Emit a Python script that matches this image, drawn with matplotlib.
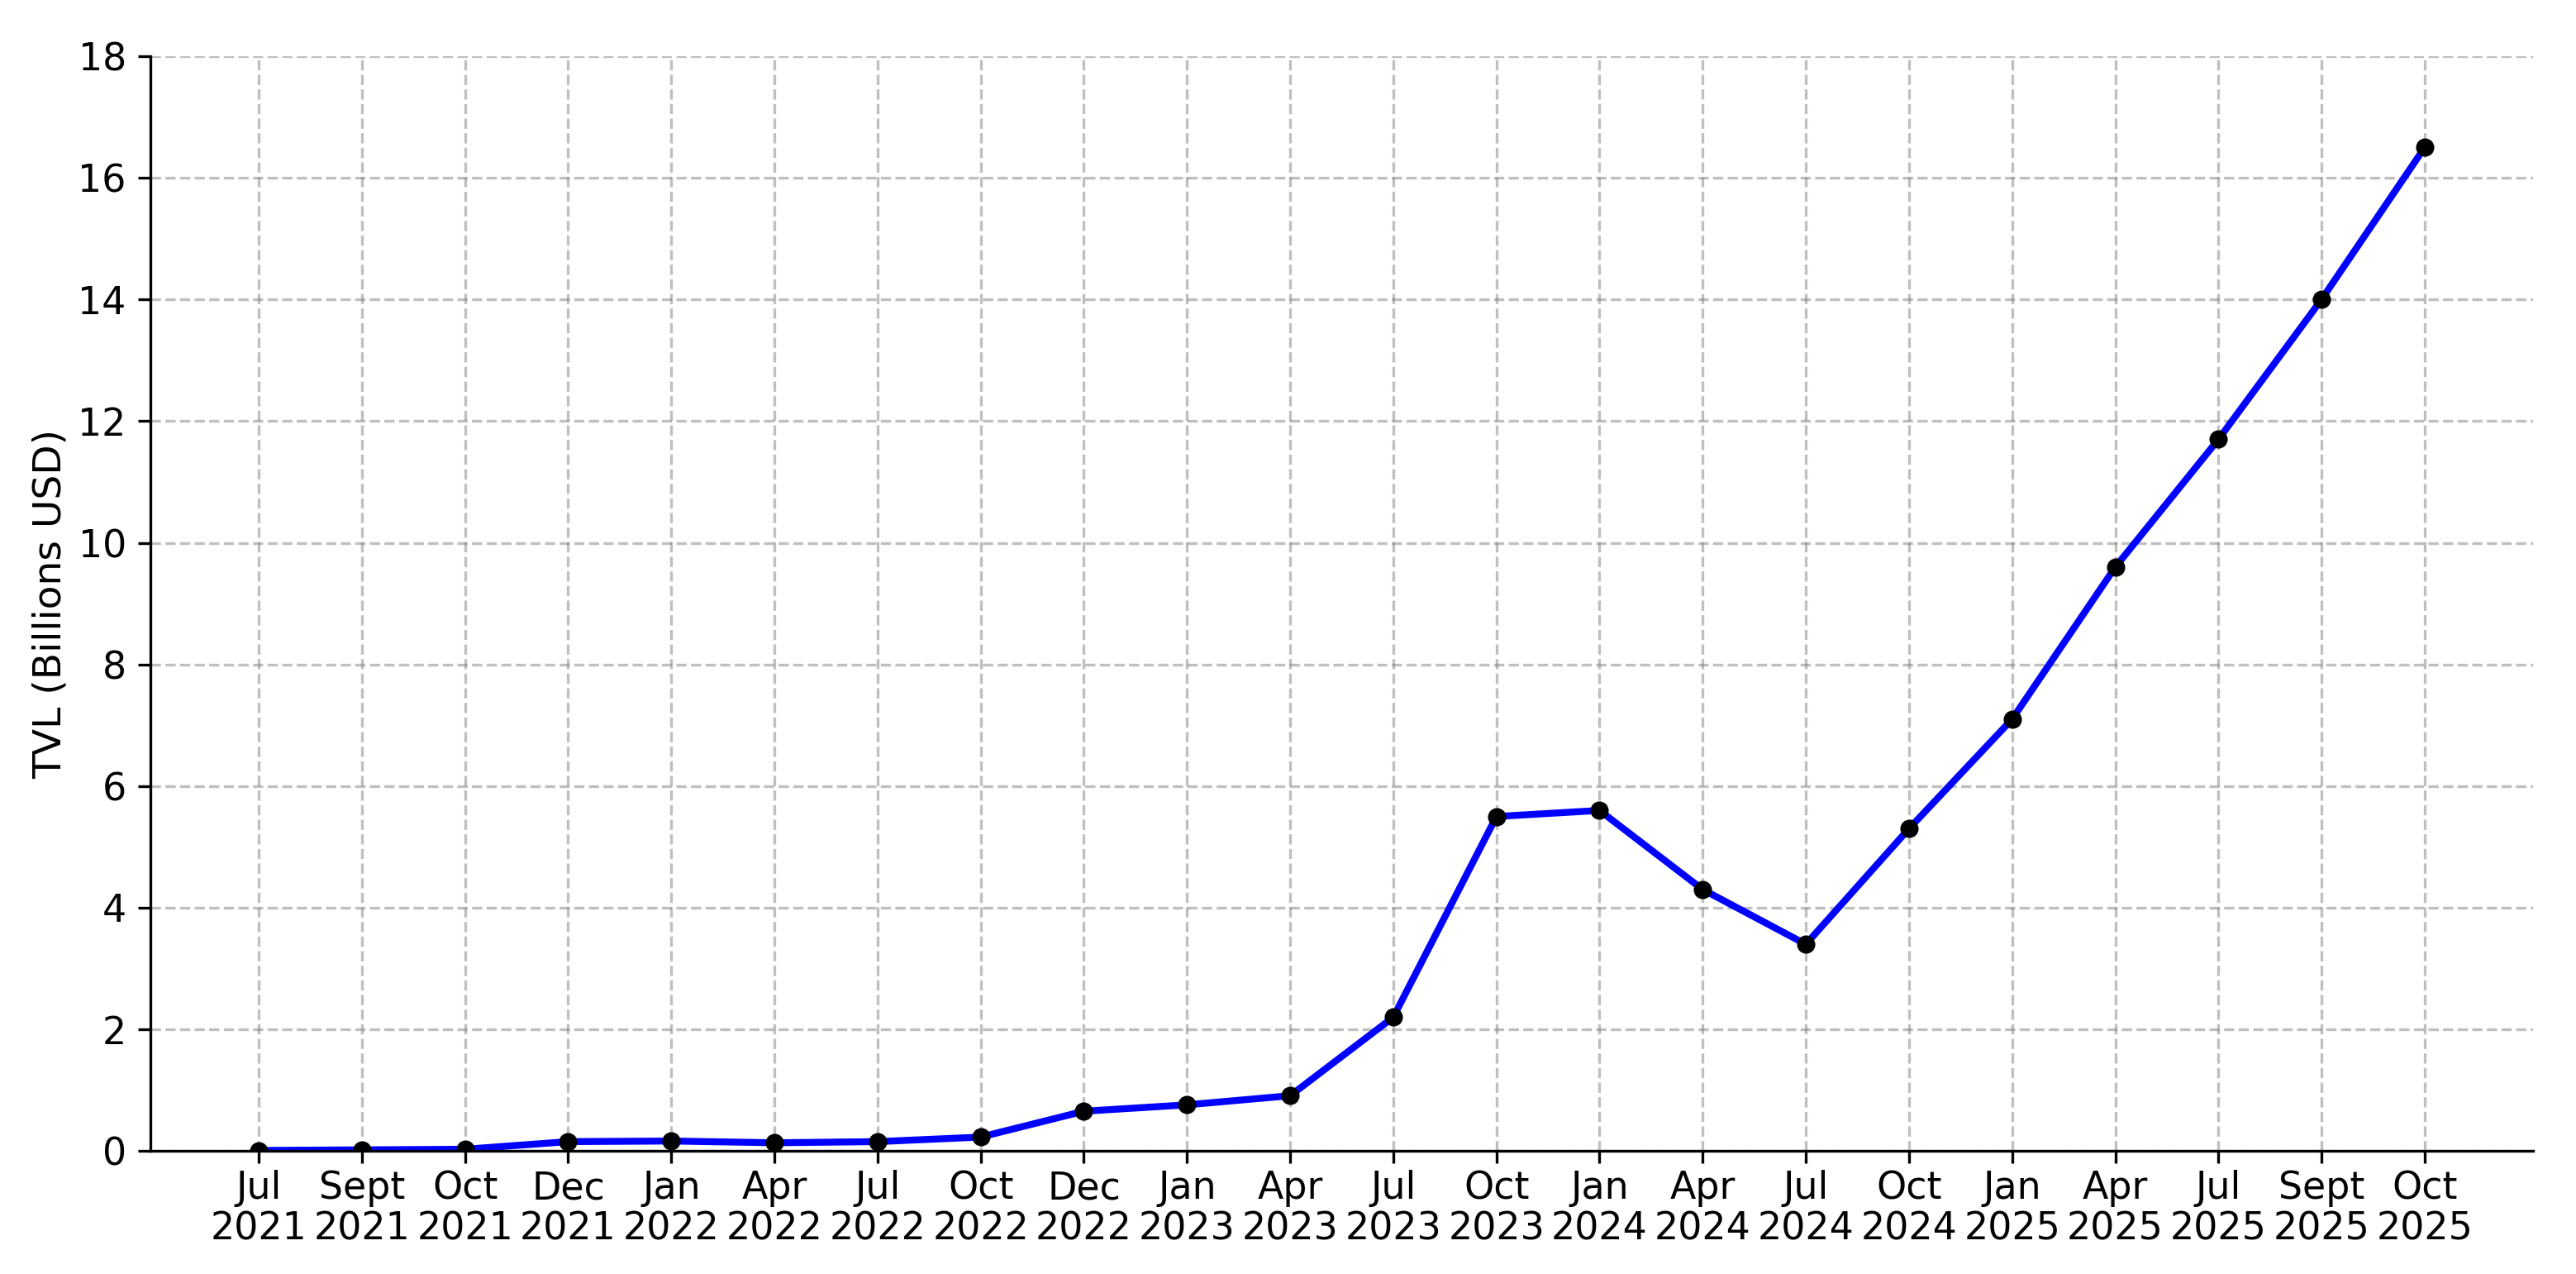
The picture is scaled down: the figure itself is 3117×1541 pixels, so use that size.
import matplotlib.pyplot as plt

# quarterly-ish TVL snapshots
months = ["Jul", "Sept", "Oct", "Dec", "Jan", "Apr", "Jul", "Oct", "Dec", "Jan", "Apr",
          "Jul", "Oct", "Jan", "Apr", "Jul", "Oct", "Jan", "Apr", "Jul", "Sept", "Oct"]
years = ["2021", "2021", "2021", "2021", "2022", "2022", "2022", "2022", "2022", "2023", "2023",
         "2023", "2023", "2024", "2024", "2024", "2024", "2025", "2025", "2025", "2025", "2025"]
tvl = [0.01, 0.02, 0.03, 0.155, 0.165, 0.136, 0.155, 0.23, 0.655, 0.76, 0.91,
       2.2, 5.5, 5.6, 4.3, 3.4, 5.3, 7.1, 9.6, 11.7, 14.0, 16.5]

labels = [f"{m}\n{y}" for m, y in zip(months, years)]
x = range(len(tvl))

fig, ax = plt.subplots(figsize=(3117 / 300, 1541 / 300), dpi=300)
fig.subplots_adjust(left=0.0584, right=0.9833, top=0.9559, bottom=0.0965)

ax.plot(x, tvl, color="blue", linewidth=2, zorder=2)
ax.plot(x, tvl, "o", color="black", markersize=4.3, zorder=3)

ax.set_xticks(list(x))
ax.set_xticklabels(labels, fontsize=11, linespacing=1.12)
ax.tick_params(axis="x", pad=2)
ax.tick_params(axis="y", labelsize=11)
ax.set_ylim(0, 18)
ax.set_yticks(range(0, 19, 2))
ax.set_ylabel("TVL (Billions USD)", fontsize=11.3, labelpad=2.5)

ax.grid(True, linestyle="--", color="gray", alpha=0.5, linewidth=0.8)
ax.set_axisbelow(True)
ax.spines["top"].set_visible(False)
ax.spines["right"].set_visible(False)

fig.savefig("out.png", dpi=300)
